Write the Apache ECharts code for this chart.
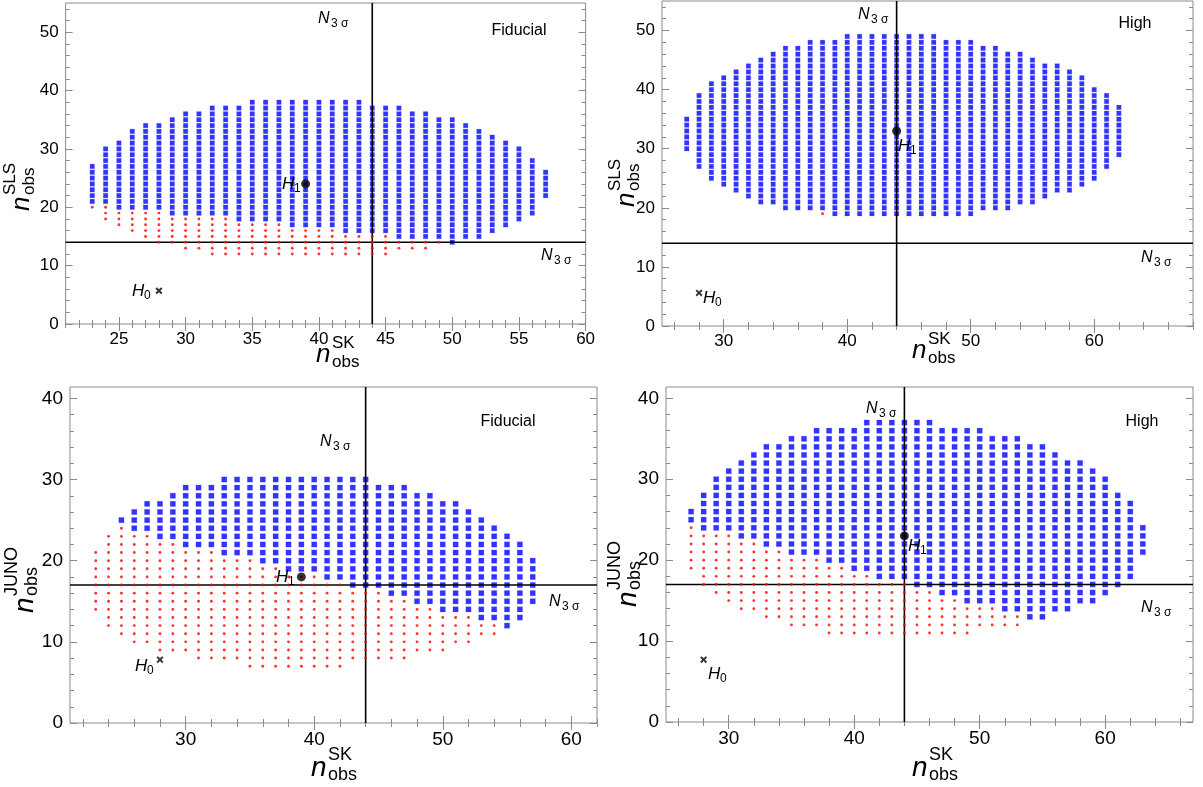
<!DOCTYPE html>
<html><head><meta charset="utf-8">
<script src="https://cdn.jsdelivr.net/npm/echarts@6/dist/echarts.min.js"></script>
<style>html,body{margin:0;padding:0;background:#fff}#c{width:1203px;height:787px}</style>
</head><body><div id="c"></div>
<script>
// ---------- DATA ----------
// Panel A: SK vs SLS, Fiducial (top-left)
const aX      = [23,24,25,26,27,28,29,30,31,32,33,34,35,36,37,38,39,40,41,42,43,44,45,46,47,48,49,50,51,52,53,54,55,56,57];
const aBlueLo = [21,21,20,20,20,20,19,19,19,19,19,18,18,18,18,17,17,17,17,16,16,16,16,15,15,15,15,14,15,15,16,17,18,19,22];
const aBlueHi = [27,30,31,33,34,34,35,36,36,37,37,37,38,38,38,38,38,38,38,38,38,37,37,37,36,36,35,35,34,33,32,31,30,28,26];
const aRedLo  = [20,18,17,16,15,14,14,13,13,12,12,12,12,12,12,12,12,12,12,12,12,12,12,13,13,13,14,null,null,null,null,null,null,null,null];
const aRedHi  = [20,20,19,19,19,19,18,18,18,18,18,17,17,17,17,16,16,16,16,15,15,15,15,14,14,14,14,null,null,null,null,null,null,null,null];
const aH0 = [28, 5.7], aH1 = [39, 24], aN3 = [44, 14];
const aXTicks = [25,30,35,40,45,50,55,60], aYTicks = [0,10,20,30,40,50];

// Panel B: SK vs SLS, High (top-right)
const bX      = [27,28,29,30,31,32,33,34,35,36,37,38,39,40,41,42,43,44,45,46,47,48,49,50,51,52,53,54,55,56,57,58,59,60,61,62];
const bBlueLo = [30,27,25,24,23,22,21,21,20,20,20,20,19,19,19,19,19,19,19,19,19,19,19,19,20,20,20,21,21,22,23,23,24,25,27,29];
const bBlueHi = [35,39,41,42,43,44,45,46,47,47,48,48,48,49,49,49,49,49,49,49,49,48,48,48,47,47,46,46,45,44,44,43,42,40,39,37];
const bRedLo  = [null,null,null,null,null,null,null,null,null,null,null,19,null,null,null,null,null,null,null,null,null,null,null,null,null,null,null,null,null,null,null,null,null,null,null,null];
const bRedHi  = [null,null,null,null,null,null,null,null,null,null,null,19,null,null,null,null,null,null,null,null,null,null,null,null,null,null,null,null,null,null,null,null,null,null,null,null];
const bH0 = [28, 5.6], bH1 = [44, 33], bN3 = [44, 14];
const bXTicks = [30,40,50,60], bYTicks = [0,10,20,30,40,50];

// Panel C: SK vs JUNO, Fiducial (bottom-left)
const cX      = [23,24,25,26,27,28,29,30,31,32,33,34,35,36,37,38,39,40,41,42,43,44,45,46,47,48,49,50,51,52,53,54,55,56,57];
const cBlueLo = [null,null,25,24,24,23,23,22,22,22,21,21,21,20,20,19,19,19,18,18,17,17,17,16,16,15,15,14,14,14,13,13,12,13,15];
const cBlueHi = [null,null,25,26,27,27,28,29,29,29,30,30,30,30,30,30,30,30,30,30,30,30,29,29,29,28,28,27,27,26,25,24,23,22,20];
const cRedLo  = [14,12,11,10,10,9,9,9,8,8,8,8,7,7,7,7,7,7,7,7,8,8,8,8,8,9,9,9,10,10,11,11,null,null,null];
const cRedHi  = [21,23,24,23,23,22,22,21,21,21,20,20,20,19,19,18,18,18,17,17,16,16,16,15,15,14,14,13,13,13,12,12,null,null,null];
const cH0 = [28, 7.8], cH1 = [39, 18], cN3 = [44, 17];
const cXTicks = [30,40,50,60], cYTicks = [0,10,20,30,40];

// Panel D: SK vs JUNO, High (bottom-right)
const dX      = [27,28,29,30,31,32,33,34,35,36,37,38,39,40,41,42,43,44,45,46,47,48,49,50,51,52,53,54,55,56,57,58,59,60,61,62,63];
const dBlueLo = [25,24,24,24,23,23,22,22,21,21,21,20,20,19,19,18,18,18,17,17,16,16,15,15,15,14,14,13,13,14,14,15,15,16,17,18,21];
const dBlueHi = [26,28,30,31,32,33,34,34,35,35,36,36,36,36,37,37,37,37,37,37,36,36,36,36,35,35,35,34,34,33,32,32,31,30,28,27,24];
const dRedLo  = [19,17,16,15,14,14,13,13,12,12,12,11,11,11,11,11,11,11,11,11,11,11,11,12,12,12,12,null,null,null,null,null,null,null,null,null,null];
const dRedHi  = [24,23,23,23,22,22,21,21,20,20,20,19,19,18,18,17,17,17,16,16,15,15,14,14,14,13,13,null,null,null,null,null,null,null,null,null,null];
const dH0 = [28, 7.7], dH1 = [44, 23], dN3 = [44, 17];
const dXTicks = [30,40,50,60], dYTicks = [0,10,20,30,40];

// ---------- BUILD ----------
const FONT = '"Liberation Sans", Arial, Helvetica, sans-serif';
const FRAME = '#8a8a8a';

function expand(xs, lo, hi) {
  const pts = [];
  xs.forEach((x, i) => {
    if (lo[i] == null) return;
    for (let y = lo[i]; y <= hi[i]; y++) pts.push([x, y]);
  });
  return pts;
}
function minorVals(min, max, step, major) {
  const out = [];
  for (let v = Math.ceil(min / step) * step; v <= max + 1e-9; v += step) {
    if (major.indexOf(v) < 0) out.push(v);
  }
  return out;
}

const panels = [
  {grid:{left:65.6, top:3, width:520, height:321}, xr:[21,60], yr:[0,55], xt:aXTicks, xs:1, yt:aYTicks, ys:2,
   X:aX, bl:aBlueLo, bh:aBlueHi, rl:aRedLo, rh:aRedHi, h0:aH0, h1:aH1, n3:aN3, sq:4.6, fs:17},
  {grid:{left:662, top:1, width:531, height:325}, xr:[25,68], yr:[0,55], xt:bXTicks, xs:2, yt:bYTicks, ys:2,
   X:bX, bl:bBlueLo, bh:bBlueHi, rl:bRedLo, rh:bRedHi, h0:bH0, h1:bH1, n3:bN3, sq:4.6, fs:17},
  {grid:{left:70, top:387, width:527, height:336}, xr:[21,62], yr:[0,41.4], xt:cXTicks, xs:2, yt:cYTicks, ys:2,
   X:cX, bl:cBlueLo, bh:cBlueHi, rl:cRedLo, rh:cRedHi, h0:cH0, h1:cH1, n3:cN3, sq:5.3, fs:19},
  {grid:{left:666, top:387, width:527, height:335}, xr:[25,67], yr:[0,41.4], xt:dXTicks, xs:2, yt:dYTicks, ys:2,
   X:dX, bl:dBlueLo, bh:dBlueHi, rl:dRedLo, rh:dRedHi, h0:dH0, h1:dH1, n3:dN3, sq:5.3, fs:19}
];

const grids = [], xAxes = [], yAxes = [], series = [];
const CROSS = 'path://M0,2 L2,0 L5,3 L8,0 L10,2 L7,5 L10,8 L8,10 L5,7 L2,10 L0,8 L3,5 Z';

function axisGroup(gi, isX, range, major, step, fs) {
  const minor = minorVals(range[0], range[1], step, major);
  const base = {type:'value', gridIndex:gi, min:range[0], max:range[1], scale:true,
                axisLine:{show:false}, splitLine:{show:false}, minorTick:{show:false}};
  const tickStyle = {color:FRAME, width:1};
  const p1 = isX ? 'bottom' : 'left', p2 = isX ? 'top' : 'right';
  return [
    Object.assign({}, base, {position:p1,
      axisLabel:{show:true, customValues:major, color:'#000', fontSize:fs, fontFamily:FONT, margin:7},
      axisTick:{show:true, inside:true, length:7, customValues:major, lineStyle:tickStyle}}),
    Object.assign({}, base, {position:p1, axisLabel:{show:false},
      axisTick:{show:true, inside:true, length:4, customValues:minor, lineStyle:tickStyle}}),
    Object.assign({}, base, {position:p2, axisLabel:{show:false},
      axisTick:{show:true, inside:true, length:7, customValues:major, lineStyle:tickStyle}}),
    Object.assign({}, base, {position:p2, axisLabel:{show:false},
      axisTick:{show:true, inside:true, length:4, customValues:minor, lineStyle:tickStyle}})
  ];
}

panels.forEach((p, gi) => {
  grids.push(Object.assign({show:true, borderColor:FRAME, borderWidth:1, backgroundColor:'transparent', containLabel:false}, p.grid));
  axisGroup(gi, true, p.xr, p.xt, p.xs, p.fs).forEach(a => xAxes.push(a));
  axisGroup(gi, false, p.yr, p.yt, p.ys, p.fs).forEach(a => yAxes.push(a));
  const ax = {xAxisIndex: gi*4, yAxisIndex: gi*4};
  series.push(Object.assign({type:'scatter', symbol:'rect', symbolSize:p.sq, z:2, silent:true,
    itemStyle:{color:'#0000ff', borderColor:'rgba(60,60,255,0.45)', borderWidth:0.5},
    data: expand(p.X, p.bl, p.bh)}, ax));
  series.push(Object.assign({type:'line', symbol:'none', z:3, silent:true,
    lineStyle:{color:'#000', width:1.6}, data:[[p.n3[0], p.yr[0]], [p.n3[0], p.yr[1]]]}, ax));
  series.push(Object.assign({type:'line', symbol:'none', z:3, silent:true,
    lineStyle:{color:'#000', width:1.6}, data:[[p.xr[0], p.n3[1]], [p.xr[1], p.n3[1]]]}, ax));
  series.push(Object.assign({type:'scatter', symbol:'circle', symbolSize:2.9, z:4, silent:true,
    itemStyle:{color:'#ff0000'}, data: expand(p.X, p.rl, p.rh)}, ax));
  series.push(Object.assign({type:'scatter', symbol:'circle', symbolSize:9, z:6, silent:true,
    itemStyle:{color:'#000'}, data:[p.h1]}, ax));
  series.push(Object.assign({type:'scatter', symbol:CROSS, symbolSize:7, z:6, silent:true,
    itemStyle:{color:'#000'}, data:[p.h0]}, ax));
});

// ---------- TEXT ----------
function T(x, y, text, font, align) {
  return {type:'text', x:x, y:y, z:100, silent:true,
    style:{text:text, font:font, fill:'#000', textAlign:align||'left', textVerticalAlign:'middle',
           align:align||'left', verticalAlign:'middle'}};
}
const I16 = 'italic 16px ' + FONT, R12 = '12px ' + FONT;
function N3(x, y) { return [T(x, y, 'N', I16), T(x + 13, y + 5, '3 σ', R12)]; }
function Hl(x, y, d) { return [T(x, y, 'H', 'italic 17px ' + FONT), T(x + 12, y + 5, d, '12px ' + FONT)]; }
function axTitle(x, y, sup, sub, rot, big) {
  const nf = big ? 28 : 26, sf = big ? 18 : 17, dx = big ? 17 : 16;
  return {type:'group', x:x, y:y, rotation: rot ? Math.PI/2 : 0, silent:true, children:[
    T(0, 0, 'n', 'italic ' + nf + 'px ' + FONT),
    T(dx, big ? -13 : -12, sup, sf + 'px ' + FONT),
    T(dx, 7, sub, sf + 'px ' + FONT)
  ]};
}
const texts = [].concat(
  N3(318, 19), N3(541, 256), N3(858, 15), N3(1141, 258),
  N3(320, 442), N3(549, 602), N3(866, 409), N3(1141, 608),
  Hl(282, 184, '1'), Hl(132, 291, '0'), Hl(898, 146, '1'), Hl(703, 298, '0'),
  Hl(276, 577, '1'), Hl(135, 666, '0'), Hl(908, 546, '1'), Hl(708, 674, '0'),
  [T(519, 31, 'Fiducial', '16px ' + FONT, 'center'), T(1135, 24, 'High', '16px ' + FONT, 'center'),
   T(508, 422, 'Fiducial', '16px ' + FONT, 'center'), T(1142, 422, 'High', '16px ' + FONT, 'center'),
   axTitle(316, 355, 'SK', 'obs', false, false), axTitle(912, 351, 'SK', 'obs', false, false),
   axTitle(311, 768, 'SK', 'obs', false, true), axTitle(912, 768, 'SK', 'obs', false, true),
   axTitle(22, 211, 'SLS', 'obs', true, false), axTitle(627, 207, 'SLS', 'obs', true, false),
   axTitle(25, 613, 'JUNO', 'obs', true, true), axTitle(628, 607, 'JUNO', 'obs', true, true)]
);

const chart = echarts.init(document.getElementById('c'), null, {renderer:'canvas'});
chart.setOption({
  animation:false,
  backgroundColor:'#fff',
  grid:grids, xAxis:xAxes, yAxis:yAxes, series:series,
  graphic:{elements:texts}
});
</script></body></html>
